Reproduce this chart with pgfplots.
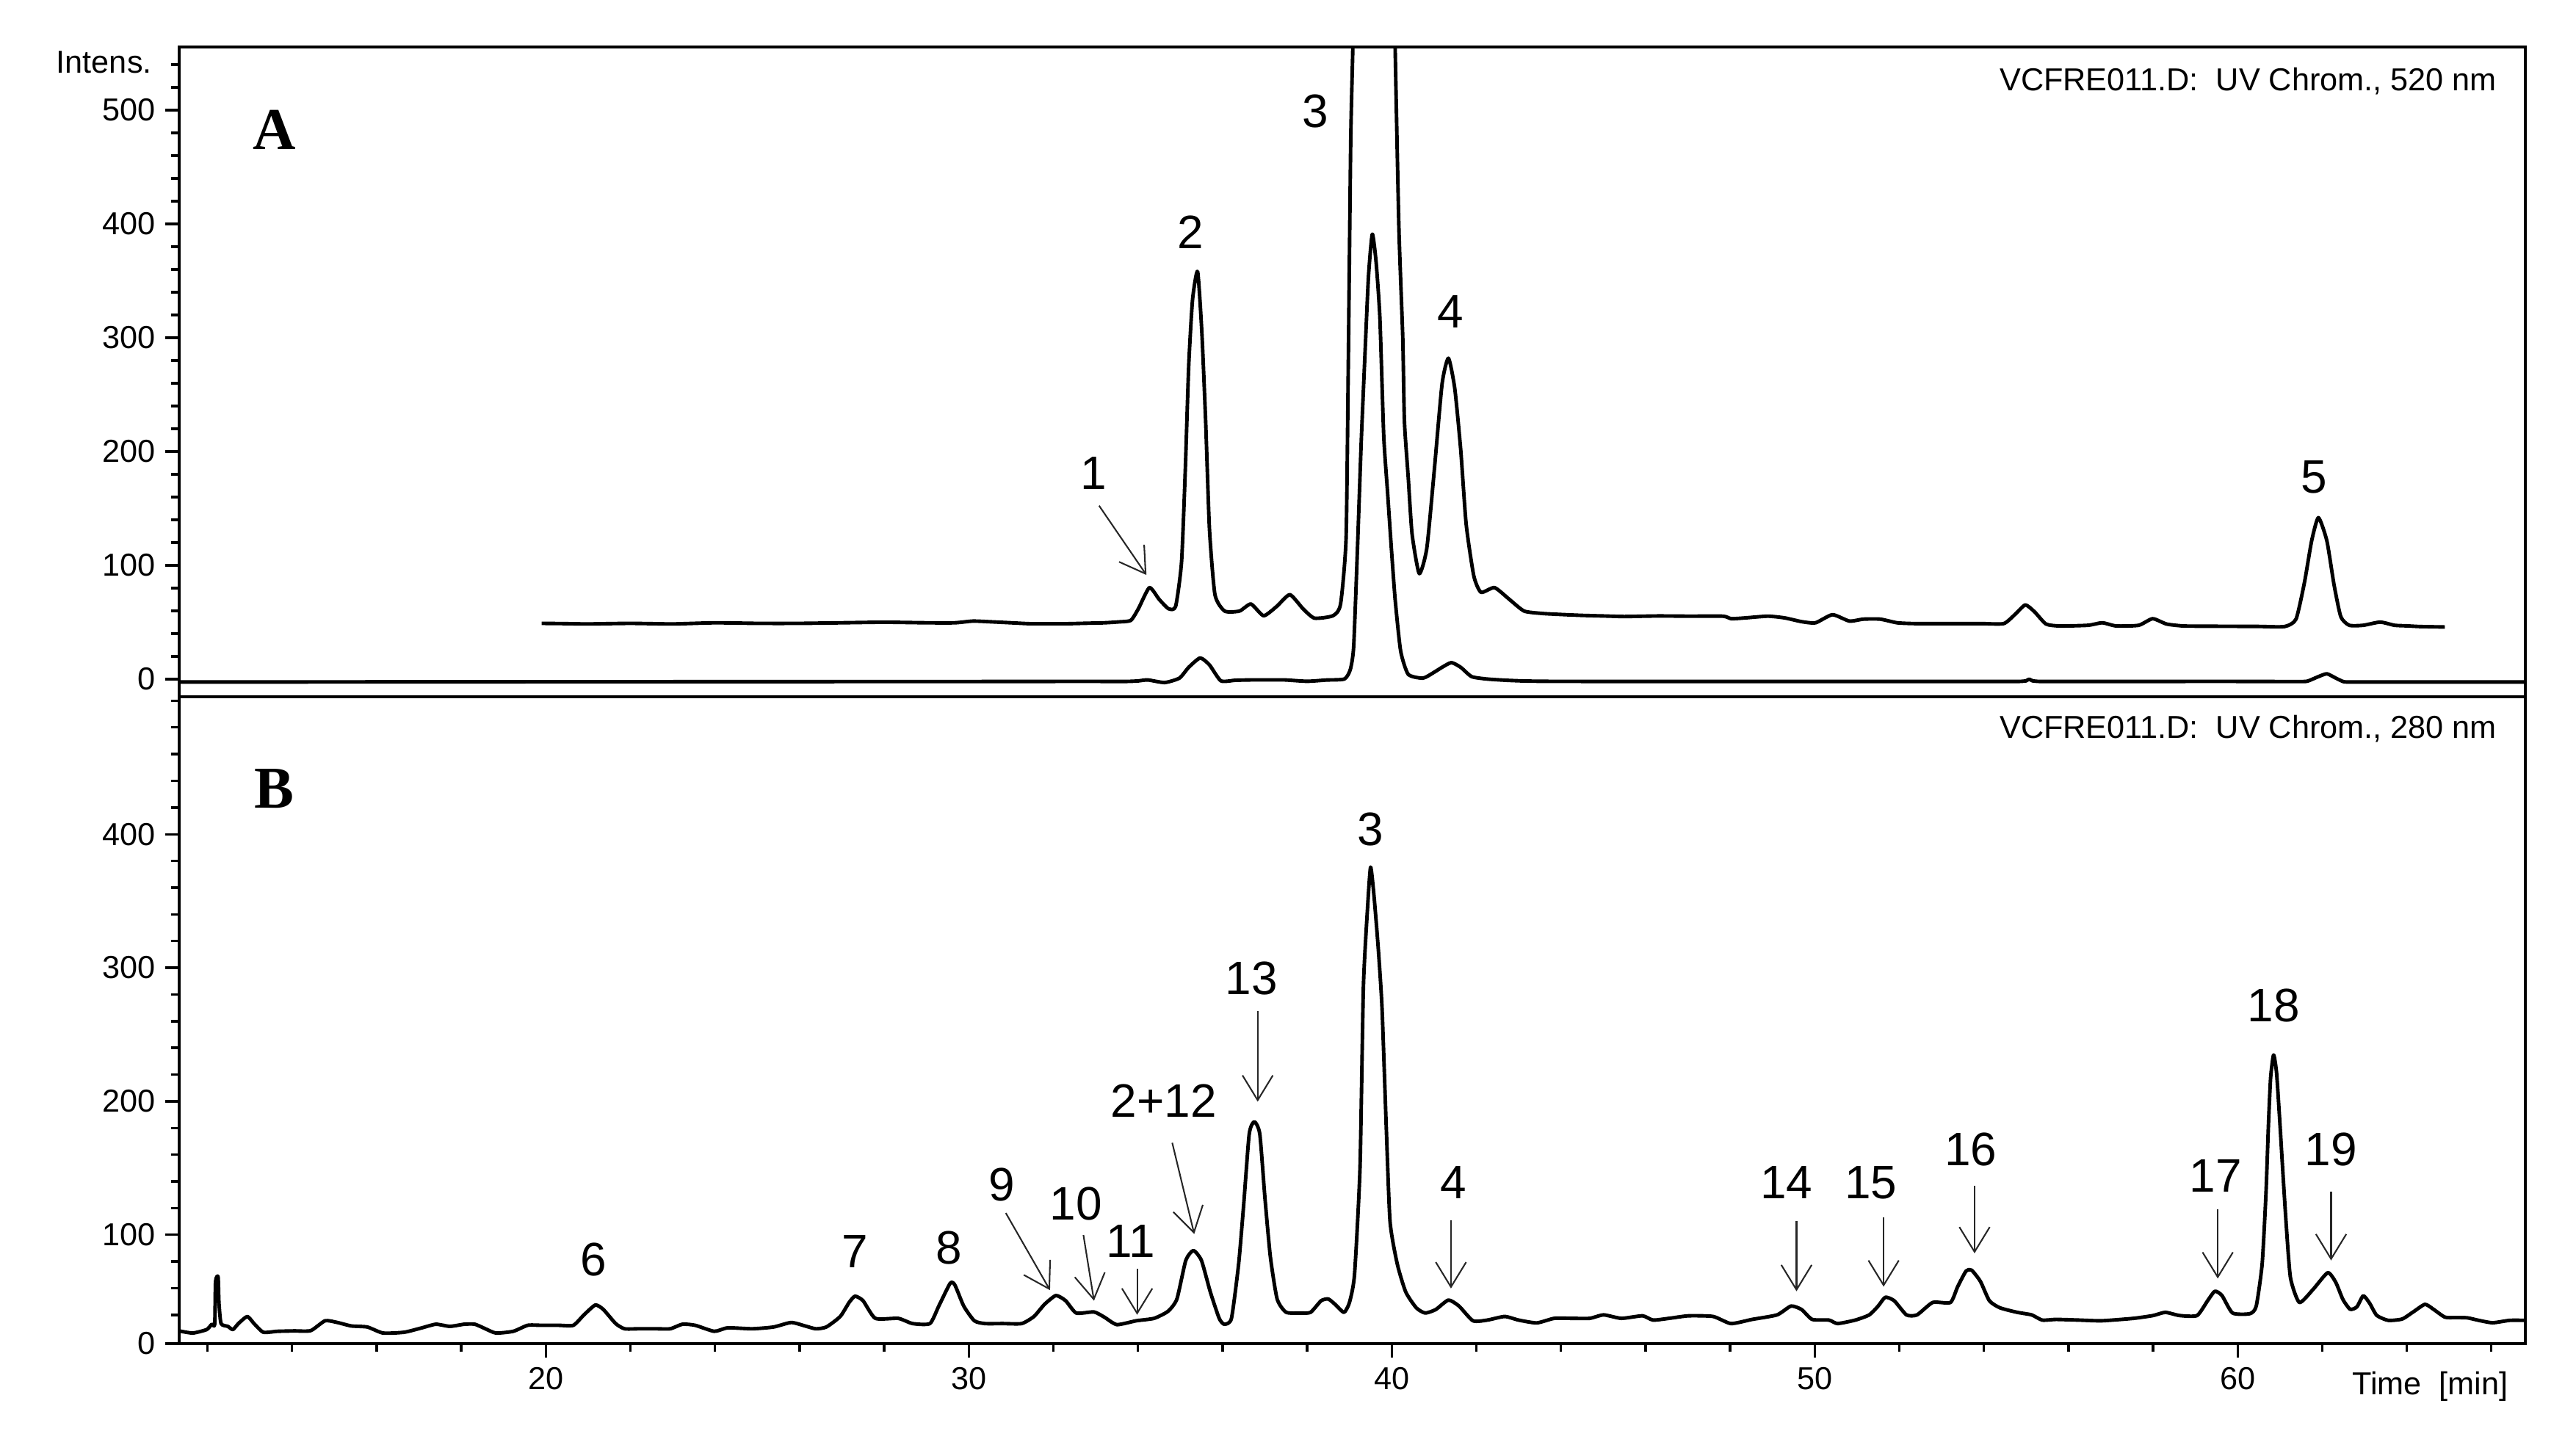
\documentclass[border=0pt]{standalone}
\usepackage{fontspec}
\setmainfont{Liberation Sans}
\newfontfamily\panelfont{Liberation Serif}
\usepackage{pgfplots}
\pgfplotsset{compat=1.18}
\usetikzlibrary{arrows.meta}

\pgfplotstableread{
t v
11.33 28
11.65 26.4
11.98 29
12.10 33
12.17 33
12.19 65
12.25 68.5
12.27 49.3
12.32 33.5
12.48 31.4
12.60 29
12.73 33.5
12.94 38.8
13.10 33.5
13.32 27
13.65 27.7
14.05 28
14.44 28.2
14.78 35.6
15.07 34.3
15.40 31.7
15.78 30.9
16.15 26.4
16.65 27
17.07 30.3
17.40 33
17.73 31.4
18.07 33
18.32 33
18.57 29.6
18.82 26.4
19.23 27.7
19.57 32.2
19.90 32.2
20.30 32.2
20.65 32.2
20.90 40
21.17 47.4
21.36 44
21.65 33.5
21.86 29.6
22.20 29.6
22.60 29.6
22.94 29.6
23.23 33
23.53 32.2
23.98 27.7
24.30 30.3
24.88 29.6
25.38 30.9
25.80 34.3
26.13 31.7
26.38 29.6
26.63 30.9
26.96 38.8
27.17 49.3
27.31 54
27.50 50.6
27.79 37.4
28.33 37.4
28.67 33.5
29.08 33.5
29.29 46.6
29.56 63.7
29.67 62.4
29.88 46.6
30.13 35.6
30.38 33.5
30.80 33.5
31.25 33.5
31.54 38.8
31.79 47.9
32.06 54.5
32.29 50.6
32.54 41.4
32.96 42.2
33.21 38.2
33.50 32.7
33.96 35.6
34.38 37.4
34.71 42.7
34.92 51.9
35.13 80.8
35.31 88.2
35.50 80.8
35.71 57.2
35.92 37.4
36.04 33
36.21 37.4
36.38 78.2
36.50 122.9
36.63 175.5
36.75 184.7
36.88 175.5
37.00 128.2
37.13 83.5
37.29 51.9
37.50 42
37.83 41.4
38.08 41.9
38.33 50.6
38.50 51.9
38.66 47.9
38.87 41.9
39.00 49.3
39.12 70.3
39.25 150.5
39.33 286
39.43 346
39.50 375.4
39.58 354
39.68 315
39.77 270
39.87 180.8
39.96 109.8
40.13 78.2
40.33 57.2
40.58 45.3
40.79 41.4
41.04 44
41.34 51.1
41.59 46.6
41.92 35.6
42.26 36.1
42.67 38.8
43.00 36.1
43.43 34
43.84 37.4
44.25 37.4
44.68 37.4
45.01 40
45.43 37.4
45.93 39.3
46.18 36.1
46.60 37.6
47.02 39.3
47.60 38.8
48.02 33.5
48.52 36.6
49.11 40
49.44 46.6
49.69 44
49.94 36.6
50.34 36.1
50.54 33.5
50.96 36.1
51.29 40
51.50 46.6
51.67 53.2
51.88 50.6
52.17 40
52.42 40
52.79 49.3
53.21 49.3
53.38 61.1
53.58 72.9
53.71 73.5
53.92 65
54.13 50.6
54.38 45.3
54.79 41.9
55.13 40
55.38 36.1
55.71 36.6
56.25 36.1
56.79 35.6
57.54 37.4
58.00 39.5
58.29 41.9
58.63 39.5
59.04 39.5
59.29 50.6
59.46 57.7
59.63 54.5
59.88 41.4
60.29 40.9
60.44 46.6
60.58 78.2
60.67 130.8
60.73 183.4
60.78 217.6
60.85 234.7
60.92 221.5
61.00 183.4
61.07 146.6
61.15 107.1
61.25 67.7
61.46 49.3
61.79 59.3
62.13 71.6
62.32 64.4
62.49 51.5
62.66 44.2
62.82 46
62.97 54.3
63.12 48.8
63.29 39.6
63.56 35.9
63.89 36.9
64.16 42.4
64.43 47.9
64.63 44.2
64.90 38.3
65.15 38
65.43 37.8
65.70 35.9
66.03 34.1
66.43 35.9
66.80 35.9
}\chromB

\pgfplotstableread{
t v
19.90 49
20.40 48.8
21 48.5
22 49
23 48.5
24 49.5
25 49
26 49
27 49.5
28 50
29 49.5
29.67 49.5
30.1 51
30.56 50.3
31.00 49.5
31.44 48.7
31.90 48.7
32.33 48.7
32.77 49.1
33.21 49.5
33.55 50.3
33.83 51.6
34.01 61.9
34.27 80.4
34.50 70.1
34.72 61.9
34.89 63.9
35.03 103
35.12 185.3
35.20 275.8
35.29 333.4
35.41 358.1
35.51 304.6
35.60 226.4
35.69 131.8
35.82 74.2
36.05 59.8
36.40 59.8
36.67 66
36.97 55.7
37.28 63.9
37.59 74.2
37.90 61.9
38.17 53.6
38.61 55.7
38.79 66
38.92 123.6
38.97 267.6
39.03 473.3
39.08 555.6
39.10 620
40.06 620
40.08 555.6
40.17 395.2
40.26 300.5
40.30 226.4
40.39 177.1
40.48 127.7
40.65 92.7
40.83 115.3
41.01 185.3
41.19 259.4
41.34 282
41.49 255.3
41.63 201.8
41.76 135.9
41.94 90.7
42.11 76.3
42.43 80.4
42.78 70.1
43.13 59.8
43.56 57.7
44.0 56.8
44.5 56
45.0 55.5
45.5 55
46.3 55.5
47.03 55.3
47.83 55.3
48.03 53.1
48.36 53.8
48.89 55.3
49.29 53.8
49.69 50.5
50.02 49.5
50.42 56.6
50.82 51
51.15 52.7
51.55 52.7
51.95 49.5
52.35 48.8
52.90 48.8
53.45 48.8
53.95 48.8
54.47 48.8
54.74 57
54.98 65.2
55.20 59.1
55.47 48.4
55.80 46.7
56.46 47.3
56.80 49.5
57.13 46.7
57.66 47.3
57.99 53.1
58.32 48.4
58.72 46.7
59.30 46.5
59.90 46.4
60.50 46.3
61.11 46.2
61.38 52.7
61.58 84.9
61.75 121.5
61.91 141.9
62.11 121.5
62.28 82.8
62.44 54.8
62.64 47.3
62.97 47.3
63.37 50.1
63.71 47.3
64.00 46.8
64.30 46.2
64.60 46
64.90 45.8
}\chromAup

\pgfplotstableread{
t v
11.33 -2.5
12.5 -2.5
14 -2.5
16 -2.4
18 -2.4
20 -2.3
22 -2.3
24 -2.2
26 -2.2
28 -2.1
30 -2.1
32 -2
33.3 -2
33.75 -2
34.0 -1.6
34.23 -0.7
34.63 -3
34.98 0.9
35.20 10.4
35.47 18.6
35.69 12.5
35.96 -1.5
36.30 -1
36.67 -0.7
37.10 -0.7
37.47 -0.7
38.00 -1.9
38.45 -0.8
38.88 0.1
39.02 8.4
39.10 28.9
39.19 115.4
39.28 210
39.37 288.2
39.45 354
39.54 391
39.63 366.4
39.72 317
39.81 214.1
39.90 164.7
39.99 115.4
40.08 70.1
40.21 24.8
40.39 4.2
40.74 0.9
41.00 6
41.19 10.4
41.41 14.5
41.63 10.4
41.89 2.2
42.25 0.1
42.70 -1
43.10 -1.6
43.56 -1.9
44.5 -2
46 -2
48 -2
50 -2
52 -2
53.5 -2
54.5 -2
54.85 -2
55.0 -1.5
55.07 0
55.15 -1.5
55.30 -2
55.6 -2
57 -2
58.5 -2
60 -2
61.0 -2.1
61.45 -2.1
61.65 -1.8
61.91 2.2
62.11 4.7
62.31 1.1
62.51 -2.3
62.75 -2.5
63.2 -2.5
64 -2.5
65 -2.5
66 -2.5
66.8 -2.5
}\chromAlow

\tikzset{
  trace/.style={line width=1.3pt, black, line join=round, smooth, tension=0.35},
  peak/.style={font=\fontsize{17}{19}\selectfont, inner sep=0pt},
  arr/.style={line width=0.55pt, black!85, -{Straight Barb[length=9pt,width=11pt,line width=0.55pt]}},
}
\pgfplotsset{
  chrom/.style={
    width=849.7pt, scale only axis,
    xmin=11.33, xmax=66.8,
    axis line style={line width=1.2pt},
    tick pos=left, tick align=outside,
    major tick length=5pt, minor tick length=3pt,
    every tick/.style={line width=0.9pt, black},
    tick label style={font=\fontsize{11.5}{13}\selectfont},
    /pgf/number format/assume math mode=true,
    clip=true,
  },
}

\begin{document}
\begin{tikzpicture}
\useasboundingbox (-64.9pt,-31.4pt) rectangle (868.1pt,486.7pt);

% ---------- lower panel B (280 nm)
\begin{axis}[chrom, name=bot,
  at={(0pt,0pt)}, anchor=south west,
  height=234.3pt,
  ymin=18.5, ymax=503,
  xtick={20,30,40,50,60},
  minor xtick={12,14,16,18,22,24,26,28,32,34,36,38,42,44,46,48,52,54,56,58,62,64,66},
  ytick={18.5,100,200,300,400},
  yticklabels={0,100,200,300,400},
  minor ytick={40,60,80,120,140,160,180,220,240,260,280,320,340,360,380,420,440,460,480,500},
]
\addplot[trace] table[x=t,y=v] {\chromB};
\node[font=\panelfont\bfseries\fontsize{21.5}{24}\selectfont] at (axis description cs:0.0406,0.858) {B};
\node[anchor=east, font=\fontsize{11.5}{13}\selectfont] at (axis description cs:0.992,0.95) {VCFRE011.D:\ \ UV Chrom., 280 nm};
\node[peak] at (axis cs:21.13,81.4) {6};
\node[peak] at (axis cs:27.31,87.4) {7};
\node[peak] at (axis cs:29.53,90) {8};
\node[peak] at (axis cs:30.78,137.4) {9};
\draw[arr] (axis cs:30.875,116.3) -- (axis cs:31.92,58.5);
\node[peak] at (axis cs:32.53,123.4) {10};
\draw[arr] (axis cs:32.71,99.8) -- (axis cs:32.96,50.6);
\node[peak] at (axis cs:33.83,95.3) {11};
\draw[arr] (axis cs:33.98,74.3) -- (axis cs:33.98,40.1);
\node[peak] at (axis cs:34.61,200.5) {2+12};
\draw[arr] (axis cs:34.81,168.9) -- (axis cs:35.33,100.6);
\node[peak] at (axis cs:36.68,292) {13};
\draw[arr] (axis cs:36.83,267.6) -- (axis cs:36.83,199.7);
\node[peak] at (axis cs:39.5,403.8) {3};
\node[peak] at (axis cs:41.46,139.2) {4};
\draw[arr] (axis cs:41.4,111) -- (axis cs:41.4,59.8);
\node[peak] at (axis cs:49.33,139.2) {14};
\draw[arr] (axis cs:49.57,110.3) -- (axis cs:49.57,57.7);
\node[peak] at (axis cs:51.33,139.2) {15};
\draw[arr] (axis cs:51.63,112.9) -- (axis cs:51.63,61.1);
\node[peak] at (axis cs:53.69,163.7) {16};
\draw[arr] (axis cs:53.78,136.6) -- (axis cs:53.78,86.1);
\node[peak] at (axis cs:59.48,144) {17};
\draw[arr] (axis cs:59.53,119) -- (axis cs:59.53,67.2);
\node[peak] at (axis cs:60.85,271.5) {18};
\node[peak] at (axis cs:62.21,163.7) {19};
\draw[arr] (axis cs:62.21,132.1) -- (axis cs:62.21,80.8);
\end{axis}

% ---------- upper panel A (520 nm)
\begin{axis}[chrom, name=top,
  at={(0pt,234.3pt)}, anchor=south west,
  height=235.4pt,
  ymin=-15.5, ymax=555.5,
  xtick=\empty,
  ytick={0,100,200,300,400,500},
  minor ytick={20,40,60,80,120,140,160,180,220,240,260,280,320,340,360,380,420,440,460,480,520,540},
]
\addplot[trace] table[x=t,y=v] {\chromAlow};
\addplot[trace] table[x=t,y=v] {\chromAup};
\node[font=\panelfont\bfseries\fontsize{21.5}{24}\selectfont] at (axis description cs:0.0406,0.8726) {A};
\node[anchor=east, font=\fontsize{11.5}{13}\selectfont] at (axis description cs:0.992,0.947) {VCFRE011.D:\ \ UV Chrom., 520 nm};
\node[peak] at (axis cs:32.95,181.2) {1};
\draw[arr] (axis cs:33.08,152.4) -- (axis cs:34.2,91.5);
\node[peak] at (axis cs:35.25,393) {2};
\node[peak] at (axis cs:38.2,499) {3};
\node[peak] at (axis cs:41.39,323) {4};
\node[peak] at (axis cs:61.8,177.4) {5};
\end{axis}

\node[anchor=base east, font=\fontsize{11.5}{13}\selectfont] at ([xshift=-6.4pt,yshift=-9.6pt]top.north west) {Intens.};
\node[anchor=north east, font=\fontsize{11.5}{13}\selectfont] at ([xshift=-2.7pt,yshift=-6.6pt]bot.south east) {Time\ \ [min]};
\end{tikzpicture}
\end{document}
